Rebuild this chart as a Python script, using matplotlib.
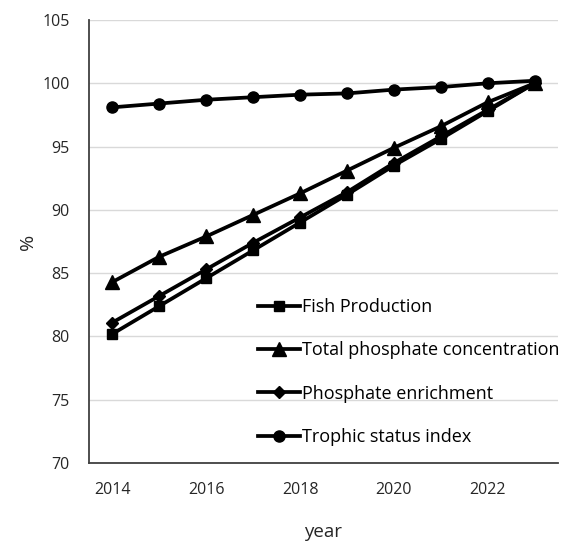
import matplotlib
matplotlib.use("Agg")
import matplotlib.pyplot as plt

# ── data ─────────────────────────────────────────────────────────────────────
years = [2014, 2015, 2016, 2017, 2018, 2019, 2020, 2021, 2022, 2023]
fish_production = [80.2, 82.4, 84.6, 86.8, 89.0, 91.2, 93.5, 95.6, 97.8, 100.0]
total_phosphate = [84.3, 86.3, 87.9, 89.6, 91.3, 93.1, 94.9, 96.6, 98.5, 100.0]
phosphate_enrichment = [81.1, 83.2, 85.3, 87.4, 89.4, 91.4, 93.7, 95.8, 97.9, 100.0]
trophic_status = [98.1, 98.4, 98.7, 98.9, 99.1, 99.2, 99.5, 99.7, 100.0, 100.2]

x_ticks = [2014, 2016, 2018, 2020, 2022]
y_ticks = [70, 75, 80, 85, 90, 95, 100, 105]

SERIES = [
    ("Fish Production", fish_production, "s", 7),
    ("Total phosphate concentration", total_phosphate, "^", 10),
    ("Phosphate enrichment", phosphate_enrichment, "D", 6),
    ("Trophic status index", trophic_status, "o", 8),
]

plt.rcParams["font.family"] = ["Open Sans", "DejaVu Sans"]

fig = plt.figure(figsize=(5.68, 5.42), dpi=100)
ax = fig.add_axes([89 / 568, 1 - 463 / 542, (558 - 89) / 568, (463 - 20) / 542])

for label, vals, marker, ms in SERIES:
    ax.plot(years, vals, color="black", lw=2.7, marker=marker, ms=ms,
            label=label, zorder=3)

ax.set_xlim(2013.5, 2023.5)
ax.set_ylim(70, 105)
ax.set_xticks(x_ticks)
ax.set_yticks(y_ticks)
ax.tick_params(axis="both", length=0, labelsize=11.5, colors="#262626")
ax.tick_params(axis="x", pad=14)
ax.tick_params(axis="y", pad=14)
ax.grid(axis="y", color="#d9d9d9", lw=1, zorder=0)
ax.set_axisbelow(True)

for side in ("top", "right"):
    ax.spines[side].set_visible(False)
for side in ("left", "bottom"):
    ax.spines[side].set_color("#404040")
    ax.spines[side].set_linewidth(1.3)

ax.set_xlabel("year", fontsize=13.5, color="#262626", labelpad=18)
ax.set_ylabel("%", fontsize=14, color="#262626", labelpad=4)

fig.legend(loc="upper left", bbox_to_anchor=(258 / 568, 1 - 298 / 542),
           frameon=False, fontsize=13, handlelength=2.3, handletextpad=0.15,
           labelspacing=1.4, borderpad=0, borderaxespad=0)

fig.savefig("out.png", dpi=100)
